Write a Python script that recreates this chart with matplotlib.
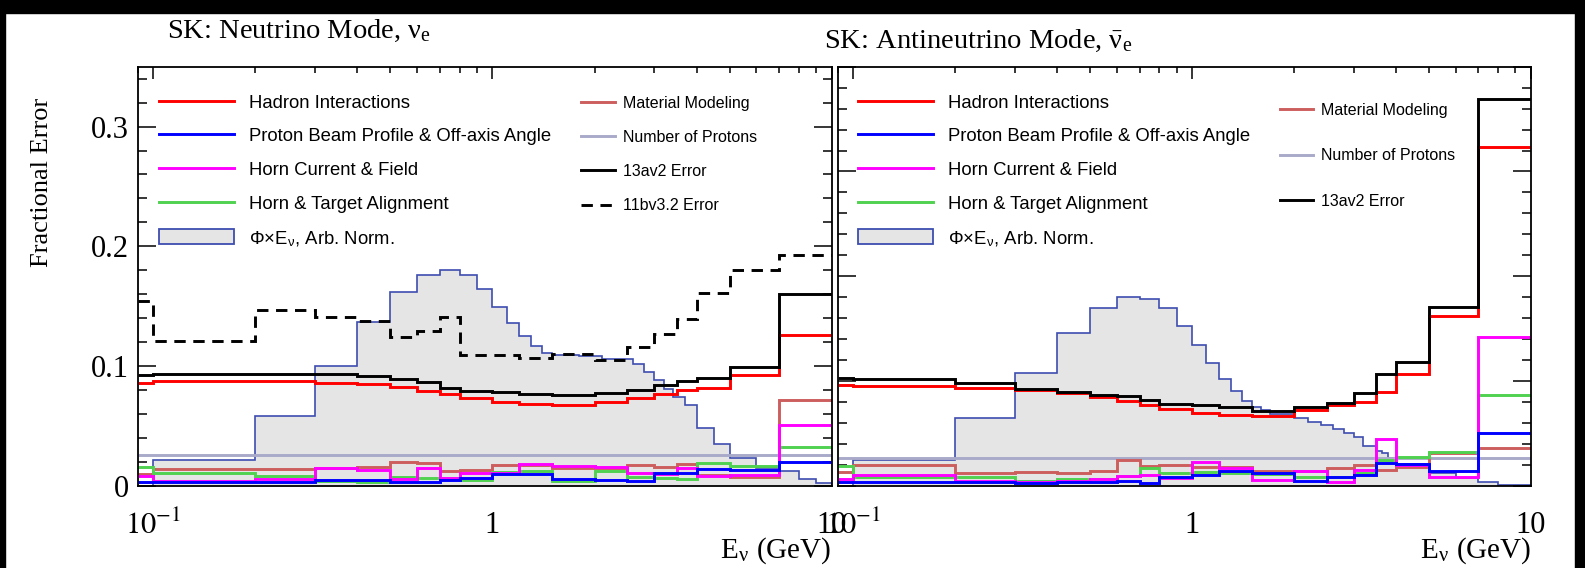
import numpy as np
import matplotlib
matplotlib.use("Agg")
import matplotlib.pyplot as plt
from matplotlib.lines import Line2D
from matplotlib.patches import Patch, Rectangle
from matplotlib.ticker import FixedLocator, FixedFormatter, MultipleLocator, NullFormatter, LogLocator

plt.rcParams['mathtext.fontset'] = 'stix'
plt.rcParams['font.family'] = ['Liberation Serif', 'DejaVu Serif']

# ---------------- data ----------------
# error binning (GeV)
err_edges = [0.0, 0.1, 0.2, 0.3, 0.4, 0.5, 0.6, 0.7, 0.8, 1.0, 1.2, 1.5,
             2.0, 2.5, 3.0, 3.5, 4.0, 5.0, 7.0, 30.0]

# neutrino mode, nu_e
hadron_nu   = [0.0862, 0.0873, 0.0873, 0.0859, 0.0846, 0.0821, 0.0790, 0.0762, 0.0729, 0.0696,
               0.0681, 0.0673, 0.0696, 0.0729, 0.0765, 0.0798, 0.0812, 0.0923, 0.1257]
beam_nu     = [0.0033, 0.0033, 0.0035, 0.0050, 0.0045, 0.0028, 0.0028, 0.0050, 0.0062, 0.0100,
               0.0100, 0.0053, 0.0047, 0.0042, 0.0103, 0.0108, 0.0136, 0.0130, 0.0198]
horn_nu     = [0.0080, 0.0040, 0.0060, 0.0148, 0.0128, 0.0060, 0.0148, 0.0065, 0.0110, 0.0110,
               0.0180, 0.0165, 0.0160, 0.0105, 0.0095, 0.0145, 0.0080, 0.0090, 0.0506]
align_nu    = [0.0154, 0.0110, 0.0083, 0.0036, 0.0027, 0.0075, 0.0063, 0.0065, 0.0050, 0.0117,
               0.0125, 0.0042, 0.0125, 0.0075, 0.0062, 0.0053, 0.0187, 0.0164, 0.0320]
material_nu = [0.0095, 0.0136, 0.0136, 0.0150, 0.0160, 0.0195, 0.0192, 0.0125, 0.0130, 0.0170,
               0.0170, 0.0150, 0.0145, 0.0172, 0.0159, 0.0180, 0.0090, 0.0075, 0.0720]
protons_nu  = [0.026] * 19
total13_nu  = [0.0923, 0.0937, 0.0937, 0.0935, 0.0915, 0.0890, 0.0867, 0.0820, 0.0790, 0.0779,
               0.0770, 0.0757, 0.0776, 0.0800, 0.0840, 0.0876, 0.0900, 0.0993, 0.1605]
total11_nu  = [0.1543, 0.1210, 0.1465, 0.1410, 0.1376, 0.1243, 0.1293, 0.1410, 0.1090, 0.1090,
               0.1063, 0.1098, 0.1048, 0.1160, 0.1270, 0.1396, 0.1610, 0.1805, 0.1924]

flux_edges_nu = [0.1, 0.2, 0.3, 0.4, 0.5, 0.6, 0.7, 0.8, 0.9, 1.0, 1.1, 1.2, 1.3, 1.4, 1.5,
                 1.8, 2.1, 2.6, 2.8, 3.0, 3.2, 3.4, 3.7, 4.0, 4.5, 5.0, 6.0, 7.0, 8.0, 9.0, 10.0]
flux_nu = [0.0214, 0.058, 0.100, 0.137, 0.162, 0.176, 0.180, 0.176, 0.164, 0.149,
           0.136, 0.125, 0.117, 0.111, 0.109, 0.108, 0.106, 0.1015, 0.095, 0.088,
           0.081, 0.074, 0.067, 0.048, 0.035, 0.023, 0.015, 0.012, 0.006, 0.002]

# antineutrino mode, nu_e-bar
hadron_nub   = [0.0961, 0.0952, 0.0929, 0.0914, 0.0882, 0.0844, 0.0811, 0.0771, 0.0730, 0.0691,
                0.0675, 0.0665, 0.0723, 0.0771, 0.0802, 0.0892, 0.1066, 0.1620, 0.3230]
beam_nub     = [0.0032, 0.0038, 0.0038, 0.0029, 0.0038, 0.0038, 0.0048, 0.0029, 0.0086, 0.0102,
                0.0143, 0.0118, 0.0048, 0.0086, 0.0102, 0.0213, 0.0208, 0.0143, 0.0506]
horn_nub     = [0.0060, 0.0102, 0.0048, 0.0038, 0.0048, 0.0062, 0.0092, 0.0102, 0.0071, 0.0229,
                0.0166, 0.0055, 0.0143, 0.0038, 0.0150, 0.0443, 0.0198, 0.0086, 0.1423]
align_nub    = [0.0188, 0.0086, 0.0080, 0.0048, 0.0062, 0.0062, 0.0092, 0.0166, 0.0118, 0.0134,
                0.0118, 0.0109, 0.0086, 0.0086, 0.0118, 0.0245, 0.0277, 0.0325, 0.0866]
material_nub = [0.0134, 0.0198, 0.0118, 0.0134, 0.0118, 0.0143, 0.0245, 0.0188, 0.0198, 0.0176,
                0.0182, 0.0143, 0.0143, 0.0166, 0.0198, 0.0150, 0.0182, 0.0315, 0.0357]
protons_nub  = [0.0267] * 19
total13_nub  = [0.1026, 0.1016, 0.0983, 0.0926, 0.0892, 0.0866, 0.0854, 0.0818, 0.0780, 0.0770,
                0.0749, 0.0710, 0.0749, 0.0790, 0.0882, 0.1066, 0.1184, 0.1709, 0.3689]

flux_edges_nub = [0.1, 0.2, 0.3, 0.4, 0.5, 0.6, 0.7, 0.8, 0.9, 1.0, 1.1, 1.2, 1.3, 1.4, 1.5, 1.6, 1.7,
                  2.0, 2.2, 2.4, 2.6, 2.8, 3.0, 3.2, 3.5, 3.65, 3.8, 4.0, 5.0, 6.0, 7.0, 8.0, 10.0]
flux_nub = [0.0245, 0.0643, 0.1073, 0.1455, 0.1694, 0.1797, 0.1787, 0.1694, 0.1524, 0.1340,
            0.1169, 0.1019, 0.0904, 0.0811, 0.0755, 0.0723, 0.0685, 0.0643, 0.0611, 0.0579,
            0.0546, 0.0500, 0.0463, 0.0377, 0.0335, 0.0308, 0.0260, 0.0210, 0.0119, 0.0070,
            0.0040, 0.0007]

x_ticks = [0.1, 1.0, 10.0]
x_tick_labels = [r'$10^{-1}$', '1', '10']

# ---------------- style ----------------
C_HADRON = '#ff0000'
C_BEAM = '#0000ff'
C_HORN = '#ff00ff'
C_ALIGN = '#4fd24f'
C_MATERIAL = '#cc5e5e'
C_PROTONS = '#a9a9c9'
C_TOTAL = '#000000'
C_FLUX_FILL = '#e5e5e5'
C_FLUX_EDGE = '#3d4db0'
LW = 2.1
DASH = (0, (3.9, 2.6))

XLIM = (0.09, 10.0)
W, H = 1585, 568

fig = plt.figure(figsize=(W / 100, H / 100), dpi=100)
ax_nu = fig.add_axes([137.7 / W, 1 - 485.7 / H, 694.0 / W, 419.0 / H])
ax_nub = fig.add_axes([838.0 / W, 1 - 485.7 / H, 692.7 / W, 419.0 / H])


def draw_panel(ax, ymax, flux_edges, flux, series, dashed=None):
    ax.set_xscale('log')
    ax.set_xlim(*XLIM)
    ax.set_ylim(0, ymax)
    ax.stairs(flux, flux_edges, baseline=0, fill=True, color=C_FLUX_FILL, zorder=1)
    ax.stairs(flux, flux_edges, baseline=0, color=C_FLUX_EDGE, lw=1.2, zorder=1.5)
    e = np.clip(np.asarray(err_edges, float), XLIM[0], XLIM[1])
    for vals, col in series:
        ax.stairs(vals, e, baseline=None, color=col, lw=LW, zorder=2)
    if dashed is not None:
        ax.stairs(dashed, e, baseline=None, color=C_TOTAL, lw=LW, linestyle=DASH, zorder=2)

    ax.xaxis.set_major_locator(FixedLocator(x_ticks))
    ax.xaxis.set_major_formatter(FixedFormatter(x_tick_labels))
    ax.xaxis.set_minor_locator(LogLocator(base=10, subs=np.arange(2, 10), numticks=20))
    ax.xaxis.set_minor_formatter(NullFormatter())
    ax.tick_params(axis='x', which='both', direction='in', bottom=False, top=True,
                   labelbottom=True, labeltop=False, width=1.1, pad=18, labelsize=22)
    ax.tick_params(axis='x', which='major', length=8.5)
    ax.tick_params(axis='x', which='minor', length=4.5)
    ax.yaxis.set_major_locator(MultipleLocator(0.1))
    ax.yaxis.set_minor_locator(MultipleLocator(0.02))
    ax.tick_params(axis='y', which='both', direction='in', left=True, right=True,
                   width=1.1, pad=6, labelsize=22)
    ax.tick_params(axis='y', which='major', length=13)
    ax.tick_params(axis='y', which='minor', length=6.5)
    for s in ax.spines.values():
        s.set_linewidth(1.3)
        s.set_zorder(3)


draw_panel(ax_nu, 0.35, flux_edges_nu, flux_nu,
           [(protons_nu, C_PROTONS), (material_nu, C_MATERIAL), (align_nu, C_ALIGN),
            (horn_nu, C_HORN), (beam_nu, C_BEAM), (hadron_nu, C_HADRON), (total13_nu, C_TOTAL)],
           dashed=total11_nu)
ax_nu.yaxis.set_major_formatter(FixedFormatter(['0', '0.1', '0.2', '0.3']))
ax_nu.yaxis.set_major_locator(FixedLocator([0.0, 0.1, 0.2, 0.3]))

draw_panel(ax_nub, 0.40, flux_edges_nub, flux_nub,
           [(protons_nub, C_PROTONS), (material_nub, C_MATERIAL), (align_nub, C_ALIGN),
            (horn_nub, C_HORN), (beam_nub, C_BEAM), (hadron_nub, C_HADRON), (total13_nub, C_TOTAL)])
ax_nub.tick_params(axis='y', labelleft=False)

# ---------------- legends ----------------
SANS = 'Liberation Sans'
main_handles = [Line2D([], [], color=C_HADRON, lw=LW),
                Line2D([], [], color=C_BEAM, lw=LW),
                Line2D([], [], color=C_HORN, lw=LW),
                Line2D([], [], color=C_ALIGN, lw=LW),
                Patch(facecolor=C_FLUX_FILL, edgecolor=C_FLUX_EDGE, lw=1.3)]
main_labels = ['Hadron Interactions', 'Proton Beam Profile & Off-axis Angle',
               'Horn Current & Field', 'Horn & Target Alignment',
               'Φ×E$_{\\mathregular{ν}}$, Arb. Norm.']

for ax, x0 in ((ax_nu, 0.0307), (ax_nub, 0.0289)):
    leg = ax.legend(main_handles, main_labels, loc='upper left', bbox_to_anchor=(x0, 0.935),
                    frameon=False, borderpad=0, borderaxespad=0, handlelength=4.05,
                    handleheight=0.85, handletextpad=0.84, labelspacing=0.86,
                    prop={'family': SANS, 'size': 13.3})
    ax.add_artist(leg)

side_nu = [Line2D([], [], color=C_MATERIAL, lw=LW), Line2D([], [], color=C_PROTONS, lw=LW),
           Line2D([], [], color=C_TOTAL, lw=LW), Line2D([], [], color=C_TOTAL, lw=LW, linestyle=DASH)]
ax_nu.legend(side_nu, ['Material Modeling', 'Number of Protons', '13av2 Error', '11bv3.2 Error'],
             loc='upper left', bbox_to_anchor=(0.6388, 0.931), frameon=False, borderpad=0,
             borderaxespad=0, handlelength=2.1, handletextpad=0.5, labelspacing=1.2,
             prop={'family': SANS, 'size': 11.5})
ax_nub.legend(side_nu[:3], ['Material Modeling', 'Number of Protons', '13av2 Error'],
              loc='upper left', bbox_to_anchor=(0.6378, 0.914), frameon=False, borderpad=0,
              borderaxespad=0, handlelength=2.1, handletextpad=0.5, labelspacing=1.92,
              prop={'family': SANS, 'size': 11.5})

# ---------------- text ----------------
fig.text(167 / W, 1 - 31 / H, r'SK: Neutrino Mode, $\mathregular{ν_{e}}$', fontsize=20.5,
         ha='left', va='center')
fig.text(824 / W, 1 - 41 / H, r'SK: Antineutrino Mode, $\mathregular{\bar{ν}_{e}}$', fontsize=20.5,
         ha='left', va='center')
fig.text(42 / W, 1 - 182 / H, 'Fractional Error', fontsize=19, rotation=90,
         ha='center', va='center')
fig.text(831 / W, 1 - 551 / H, r'E$_{\mathregular{ν}}$ (GeV)', fontsize=21, ha='right', va='center')
fig.text(1531 / W, 1 - 551 / H, r'E$_{\mathregular{ν}}$ (GeV)', fontsize=21, ha='right', va='center')

# black border of the frame
for rect in ((0, 1 - 13 / H, 1, 13 / H), (0, 0, 5 / W, 1), (1575 / W, 0, 10 / W, 1)):
    fig.patches.append(Rectangle(rect[:2], rect[2], rect[3], transform=fig.transFigure,
                                 color='black', zorder=10))

fig.savefig('out.png', dpi=100)
